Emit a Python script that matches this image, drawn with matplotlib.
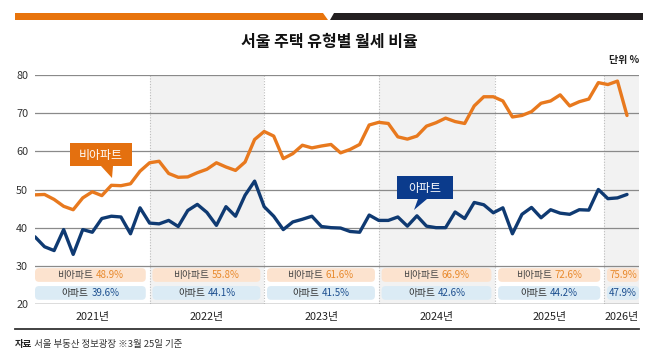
import matplotlib
matplotlib.use('Agg')
import matplotlib.pyplot as plt
from matplotlib.patches import Polygon, FancyBboxPatch
import matplotlib.transforms as mtransforms
import numpy as np

plt.rcParams['font.family'] = ['Noto Sans CJK KR', 'DejaVu Sans']

# ---------------- data ----------------
title = '서울 주택 유형별 월세 비율'
unit_label = '단위 %'
source_bold = '자료'
source_text = ' 서울 부동산 정보광장 ※3월 25일 기준'

years = ['2021년', '2022년', '2023년', '2024년', '2025년', '2026년']

# monthly share of monthly-rent contracts (%), Jan 2021 .. Mar 2026
nonapt = [48.6, 48.7, 47.4, 45.6, 44.7, 47.8, 49.4, 48.4, 51.1, 51.0, 51.5, 54.8,
          57.0, 57.4, 54.2, 53.2, 53.3, 54.4, 55.3, 57.0, 55.9, 55.0, 57.2, 63.1,
          65.2, 64.0, 58.1, 59.4, 61.6, 60.9, 61.4, 61.8, 59.6, 60.5, 61.8, 66.9,
          67.6, 67.3, 63.8, 63.2, 64.0, 66.6, 67.5, 68.7, 67.8, 67.3, 71.9, 74.3,
          74.3, 73.2, 69.0, 69.4, 70.4, 72.6, 73.2, 74.8, 71.9, 73.0, 73.7, 78.0,
          77.5, 78.4, 69.4]
apt = [37.6, 35.0, 34.0, 39.5, 33.0, 39.5, 38.8, 42.4, 43.0, 42.8, 38.4, 45.2,
       41.2, 41.0, 41.9, 40.3, 44.5, 46.1, 44.0, 40.6, 45.5, 43.0, 48.5, 52.2,
       45.5, 43.0, 39.5, 41.5, 42.2, 43.0, 40.3, 40.0, 39.9, 39.0, 38.8, 43.3,
       41.9, 41.9, 42.8, 40.4, 43.1, 40.4, 40.0, 40.0, 44.1, 42.4, 46.6, 46.0,
       43.9, 45.2, 38.4, 43.5, 45.3, 42.6, 44.7, 43.8, 43.5, 44.7, 44.6, 50.0,
       47.6, 47.8, 48.7]

nonapt_year = ['48.9%', '55.8%', '61.6%', '66.9%', '72.6%', '75.9%']
apt_year = ['39.6%', '44.1%', '41.5%', '42.6%', '44.2%', '47.9%']

nonapt_name = '비아파트'
apt_name = '아파트'

# ---------------- style ----------------
ORANGE = '#e8791e'
NAVY = '#0f3a72'
ORANGE_BOX = '#e4700f'
NAVY_BOX = '#0b3b8c'
SHADE = '#f2f2f2'

W, H = 658, 364
fig = plt.figure(figsize=(W / 100, H / 100), dpi=100)
fig.patch.set_facecolor('white')


def F(x, y):
    return (x / W, 1 - y / H)


L, R, T, B = 35, 639, 75, 304
ax = fig.add_axes([L / W, 1 - B / H, (R - L) / W, (B - T) / H])
months = np.arange(len(nonapt))
xmax = (len(nonapt) - 1) * (R - L) / (627 - L)
ax.set_xlim(0, xmax)
ax.set_ylim(20, 80)
px_per_month = (R - L) / xmax

# year boundaries (month index)
bounds = [0, 12, 24, 36, 48.2, 59.6, xmax]

# shading alternating years
for k in (1, 3, 5):
    ax.axvspan(bounds[k], bounds[k + 1], color=SHADE, zorder=0, lw=0)
for b in bounds[1:-1]:
    ax.axvline(b, color='#bdbdbd', lw=0.8, ls=(0, (1, 1.5)), zorder=1)

for v in range(30, 81, 10):
    ax.axhline(v, color='#8a8a8a', lw=0.9, zorder=1)
ax.axhline(20, color='#555555', lw=1.0, zorder=1)

ax.plot(months, nonapt, color=ORANGE, lw=2.4, solid_joinstyle='round',
        solid_capstyle='round', zorder=3)
ax.plot(months, apt, color=NAVY, lw=2.4, solid_joinstyle='round',
        solid_capstyle='round', zorder=3)

for s in ax.spines.values():
    s.set_visible(False)
ax.set_yticks(range(20, 81, 10))
ax.tick_params(axis='y', length=0, pad=5, labelsize=7.8, labelcolor='#333333')
centers = [(bounds[k] + bounds[k + 1]) / 2 for k in range(len(years))]
ax.set_xticks(centers)
ax.set_xticklabels(years)
ax.tick_params(axis='x', length=0, pad=6, labelsize=7.8, labelcolor='#222222')

# summary boxes
row_o = (25.8, 29.4)
row_b = (21.1, 24.7)
r_px = 4
fs_box = 7.0
for k in range(len(years)):
    x0 = bounds[k] + (0.3 if k > 0 else 0)
    x1 = bounds[k + 1] - (0.4 if k < len(years) - 1 else 0)
    for (y0, y1), col in ((row_o, '#fce3cf'), (row_b, '#dbebf5')):
        p = FancyBboxPatch((x0, y0), x1 - x0, y1 - y0,
                           boxstyle=f'round,pad=0,rounding_size={r_px / px_per_month}',
                           mutation_aspect=(px_per_month / ((B - T) / 60)),
                           fc=col, ec='none', zorder=2)
        ax.add_patch(p)
    cx = (x0 + x1) / 2
    yo = sum(row_o) / 2
    yb = sum(row_b) / 2
    if k < len(years) - 1:
        t1 = mtransforms.offset_copy(ax.transData, fig=fig, x=2.5, y=0, units='dots')
        t2 = mtransforms.offset_copy(ax.transData, fig=fig, x=5.0, y=0, units='dots')
        ax.text(cx, yo, nonapt_name, ha='right', va='center', fontsize=fs_box,
                color='#444444', transform=t1, zorder=4)
        ax.text(cx, yo, nonapt_year[k], ha='left', va='center', fontsize=fs_box,
                color='#e8892c', transform=t2, zorder=4)
        t3 = mtransforms.offset_copy(ax.transData, fig=fig, x=-1.5, y=0, units='dots')
        t4 = mtransforms.offset_copy(ax.transData, fig=fig, x=1.0, y=0, units='dots')
        ax.text(cx, yb, apt_name, ha='right', va='center', fontsize=fs_box,
                color='#333333', transform=t3, zorder=4)
        ax.text(cx, yb, apt_year[k], ha='left', va='center', fontsize=fs_box,
                color='#1d4f8f', transform=t4, zorder=4)
    else:
        ax.text(cx, yo, nonapt_year[k], ha='center', va='center', fontsize=fs_box,
                color='#e8892c', zorder=4)
        ax.text(cx, yb, apt_year[k], ha='center', va='center', fontsize=fs_box,
                color='#1d4f8f', zorder=4)

# header bar
fig.patches.append(Polygon([F(15, 13), F(323, 13), F(328, 20), F(15, 20)],
                           closed=True, transform=fig.transFigure, fc='#e8740c', ec='none'))
fig.patches.append(Polygon([F(334, 13), F(643, 13), F(643, 20), F(330, 20)],
                           closed=True, transform=fig.transFigure, fc='#231f20', ec='none'))

fig.text(*F(329, 42), title, ha='center', va='center', fontsize=11.5,
         fontweight='bold', color='#111111')
fig.text(*F(639, 60), unit_label, ha='right', va='center', fontsize=7.2,
         fontweight='bold', color='#222222')

# callouts
fig.patches.append(Polygon([F(70, 143), F(132, 143), F(132, 166), F(113, 166),
                            F(112, 178), F(101, 166), F(70, 166)], closed=True,
                           transform=fig.transFigure, fc=ORANGE_BOX, ec='none', zorder=5))
fig.text(*F(101, 155), nonapt_name, ha='center', va='center', fontsize=8.6,
         fontweight='medium', color='white', zorder=6)
fig.patches.append(Polygon([F(397, 176), F(453, 176), F(453, 199), F(427, 199),
                            F(414, 210), F(418, 199), F(397, 199)], closed=True,
                           transform=fig.transFigure, fc=NAVY_BOX, ec='none', zorder=5))
fig.text(*F(425, 188), apt_name, ha='center', va='center', fontsize=8.6,
         fontweight='medium', color='white', zorder=6)

# bottom rule and source
fig.add_artist(plt.Line2D([15 / W, 639 / W], [1 - 329 / H] * 2, color='#333333', lw=1.3,
                          transform=fig.transFigure))
t = fig.text(*F(15, 344), source_bold, ha='left', va='center', fontsize=6.8,
             fontweight='bold', color='#222222')
fig.canvas.draw()
bb = t.get_window_extent()
fig.text(bb.x1 / W, 1 - 344 / H, source_text, ha='left', va='center', fontsize=6.8,
         color='#333333')

fig.savefig('out.png', dpi=100, facecolor='white')
